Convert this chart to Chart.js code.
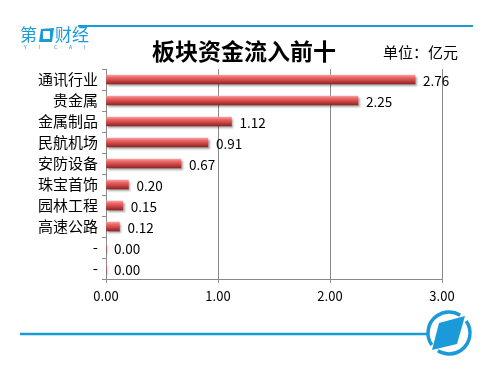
<!DOCTYPE html>
<html>
<head>
<meta charset="utf-8">
<script src="https://cdn.jsdelivr.net/npm/chart.js@4"></script>
<style>
    body { margin: 0; background: #fff; }
    canvas { display: block; }
</style>
</head>
<body>
<canvas id="grafico" width="500" height="373"></canvas>
<script>
// dados do gráfico
const categorias = ['通讯行业', '贵金属', '金属制品', '民航机场', '安防设备', '珠宝首饰', '园林工程', '高速公路', '-', '-'];
const valores = [2.76, 2.25, 1.12, 0.91, 0.67, 0.20, 0.15, 0.12, 0.00, 0.00];
const titulo = '板块资金流入前十';
const unidade = '单位：亿元';
const eixoMax = 3;

const AZUL = '#1a9ad9';
const FONTE = '"Noto Sans CJK SC", "Noto Sans", sans-serif';
Chart.defaults.font.family = FONTE;
Chart.defaults.color = '#000';

// gradiente "3D" da barra, calculado pela posição da categoria
function corBarra(context) {
    const chart = context.chart;
    const y = chart.scales.y;
    if (!y || context.dataIndex === undefined) return '#d04848';
    const centro = y.getPixelForValue(context.dataIndex);
    if (!isFinite(centro)) return '#d04848';
    const g = chart.ctx.createLinearGradient(0, centro - 4.5, 0, centro + 4.5);
    g.addColorStop(0, '#f6a0a0');
    g.addColorStop(0.25, '#ec6a6a');
    g.addColorStop(0.6, '#cf4545');
    g.addColorStop(1, '#8c2626');
    return g;
}

// decoração: linhas azuis, logos, título e unidade
const decoracao = {
    id: 'decoracao',
    beforeDraw(chart) {
        const ctx = chart.ctx;
        ctx.save();
        ctx.fillStyle = '#fff';
        ctx.fillRect(0, 0, chart.width, chart.height);

        // linha superior
        ctx.strokeStyle = AZUL;
        ctx.lineWidth = 2;
        ctx.beginPath();
        ctx.moveTo(78, 26);
        ctx.lineTo(473, 26);
        ctx.stroke();

        // logo 第一财经
        ctx.fillStyle = AZUL;
        ctx.font = '17px ' + FONTE;
        ctx.textBaseline = 'middle';
        ctx.textAlign = 'left';
        ctx.fillText('第', 20, 35);
        ctx.fillText('财经', 55, 35);
        ctx.beginPath();
        ctx.moveTo(41, 29); ctx.lineTo(54, 28); ctx.lineTo(52, 42); ctx.lineTo(39, 42);
        ctx.closePath();
        ctx.fill();
        ctx.fillStyle = '#fff';
        ctx.fillRect(43, 31, 7, 8);
        ctx.fillStyle = AZUL;
        ctx.font = '5px ' + FONTE;
        ['Y', 'I', 'C', 'A', 'I'].forEach((l, i) => ctx.fillText(l, 24 + i * 15, 47));

        // linha inferior
        ctx.lineWidth = 2.5;
        ctx.beginPath();
        ctx.moveTo(20, 334);
        ctx.lineTo(427, 334);
        ctx.stroke();

        // logo circular
        ctx.lineWidth = 3.5;
        const cx = 449, cy = 333, r = 21;
        ctx.beginPath();
        ctx.arc(cx, cy, r, -35 * Math.PI / 180, 122 * Math.PI / 180);
        ctx.stroke();
        ctx.beginPath();
        ctx.arc(cx, cy, r, 145 * Math.PI / 180, 302 * Math.PI / 180);
        ctx.stroke();
        ctx.beginPath();
        ctx.moveTo(439, 323); ctx.lineTo(465, 316); ctx.lineTo(457, 344); ctx.lineTo(432, 350);
        ctx.closePath();
        ctx.fill();
        ctx.restore();
    },
    afterDraw(chart) {
        const ctx = chart.ctx;
        ctx.save();
        ctx.fillStyle = '#000';
        ctx.textBaseline = 'middle';
        ctx.textAlign = 'center';
        ctx.font = 'bold 23px ' + FONTE;
        ctx.fillText(titulo, 244, 51);
        ctx.textAlign = 'left';
        ctx.font = '15px ' + FONTE;
        ctx.fillText(unidade, 383, 52);
        ctx.restore();
    }
};

// rótulos de valor e sombra das barras
const rotulos = {
    id: 'rotulos',
    beforeDatasetDraw(chart) {
        const ctx = chart.ctx;
        ctx.save();
        ctx.shadowColor = 'rgba(0,0,0,0.35)';
        ctx.shadowOffsetX = 1.5;
        ctx.shadowOffsetY = 2;
        ctx.shadowBlur = 2;
    },
    afterDatasetDraw(chart) {
        chart.ctx.restore();
    },
    afterDatasetsDraw(chart) {
        const ctx = chart.ctx;
        const meta = chart.getDatasetMeta(0);
        ctx.save();
        ctx.fillStyle = '#000';
        ctx.font = '13.5px ' + FONTE;
        ctx.textAlign = 'left';
        ctx.textBaseline = 'middle';
        meta.data.forEach((barra, i) => {
            ctx.fillText(valores[i].toFixed(2), barra.x + 8, barra.y + 1);
        });
        ctx.restore();
    }
};

new Chart(document.getElementById('grafico'), {
    type: 'bar',
    plugins: [decoracao, rotulos],
    data: {
        labels: categorias,
        datasets: [{
            data: valores,
            backgroundColor: corBarra,
            borderWidth: 0,
            barThickness: 9
        }]
    },
    options: {
        indexAxis: 'y',
        responsive: false,
        animation: false,
        layout: { padding: { top: 69, right: 58, bottom: 0, left: 0 } },
        plugins: {
            legend: { display: false },
            tooltip: { enabled: false }
        },
        scales: {
            x: {
                min: 0,
                max: eixoMax,
                afterFit: s => { s.height = 94; },
                ticks: {
                    stepSize: 1,
                    padding: 5,
                    font: { size: 13 },
                    callback: v => Number(v).toFixed(2)
                },
                grid: {
                    color: '#8a8a8a',
                    borderDash: [4, 3],
                    tickLength: 4,
                    tickBorderDash: [],
                    tickColor: '#8a8a8a'
                },
                border: { display: true, color: '#8a8a8a', width: 1 }
            },
            y: {
                afterFit: s => { s.width = 106; },
                ticks: { padding: 4, font: { size: 15 } },
                grid: {
                    drawOnChartArea: false,
                    tickLength: 4,
                    color: '#8a8a8a'
                },
                border: { display: true, color: '#8a8a8a', width: 1 }
            }
        }
    }
});
</script>
</body>
</html>
